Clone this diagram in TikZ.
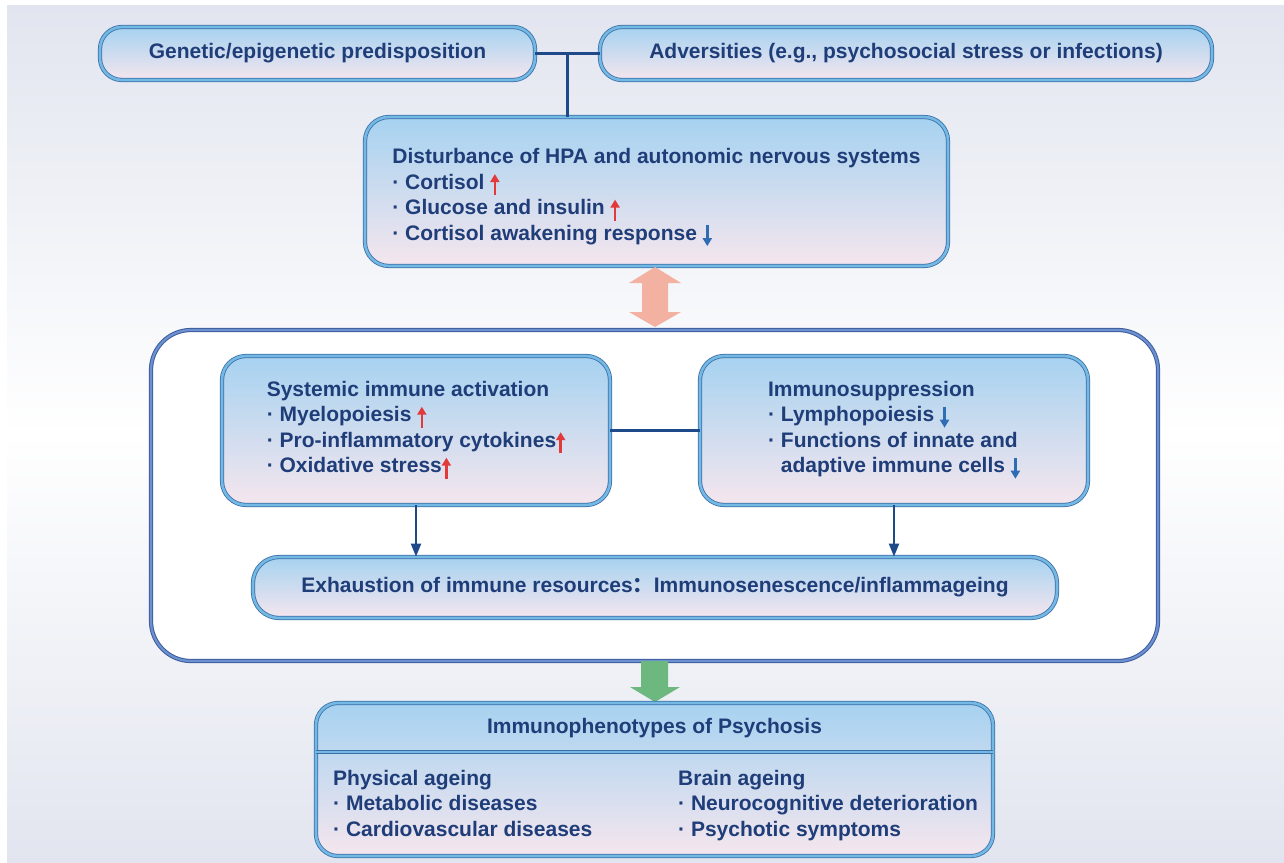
\documentclass[tikz,border=0pt]{standalone}
\usepackage{fontspec}
\setmainfont{Liberation Sans}
\newfontfamily\cjk{Noto Sans CJK SC}
\usetikzlibrary{arrows.meta,calc}
\definecolor{txtblue}{HTML}{1F3D78}
\definecolor{edgeblue}{HTML}{3B6FA8}
\definecolor{bandblue}{HTML}{74B8E4}
\definecolor{boxtop}{HTML}{A6D2F0}
\definecolor{boxbot}{HTML}{F5E6EE}
\definecolor{frameedge}{HTML}{3C5C9C}
\definecolor{frameband}{HTML}{6C90D0}
\definecolor{linkblue}{HTML}{1F4A8A}
\definecolor{upred}{HTML}{E23A3A}
\definecolor{downblue}{HTML}{2E6CB4}
\definecolor{bgedge}{HTML}{E2E5EF}
\definecolor{salmon}{HTML}{F2B1A1}
\definecolor{leafgreen}{HTML}{6DB87F}
% small trend arrows in the text
\newcommand{\up}{\tikz[baseline=0pt]\draw[upred,line width=2.6pt,-{Triangle[length=8pt,width=9pt]}] (0pt,-6pt) -- (0pt,15pt);}
\newcommand{\down}{\tikz[baseline=0pt]\draw[downblue,line width=2.6pt,-{Triangle[length=8pt,width=9pt]}] (0pt,15pt) -- (0pt,-6pt);}
\tikzset{
  pill/.style={draw=edgeblue, double=bandblue, double distance=2.6pt, line width=0.8pt,
    top color=boxtop, bottom color=boxbot, rounded corners=#1, align=left,
    text=txtblue, font=\bfseries\fontsize{21}{25.5}\selectfont, inner sep=0pt},
  pill/.default=24pt,
  link/.style={linkblue, line width=2.2pt},
  txt/.style={text=txtblue, font=\bfseries\fontsize{21}{25.5}\selectfont, align=left, inner sep=0pt}
}
\begin{document}
\begin{tikzpicture}[x=1pt,y=-1pt]
  \useasboundingbox (0,0) rectangle (1284,862);
  \shade[top color=bgedge, bottom color=bgedge, middle color=white] (7,5) rectangle (1284,862);

  % top row
  \node[pill=22pt, minimum width=435pt, minimum height=53pt] (gen) at (317.5,53.5) {Genetic/epigenetic predisposition};
  \node[pill=22pt, minimum width=612pt, minimum height=53pt] (adv) at (906,53.5) {Adversities (e.g., psychosocial stress or infections)};
  \node[pill, minimum width=583pt, minimum height=149pt] (hpa) at (656.5,191.5)
    {\rule{0pt}{28pt}Disturbance of HPA and autonomic nervous systems\\
     · Cortisol \up\\
     · Glucose and insulin \up\\
     · Cortisol awakening response \down};
  \coordinate (join) at ($(gen.east)!0.5!(adv.west)$);
  \draw[link] (gen.east) -- (adv.west);
  \draw[link] (join) -- (join |- hpa.north);

  % immune frame
  \node[draw=frameedge, double=frameband, double distance=2.2pt, line width=1pt, fill=white,
    rounded corners=40pt, minimum width=1007pt, minimum height=331pt] (frame) at (654.5,495.5) {};
  \node[pill, minimum width=388pt, minimum height=149pt] (sia) at (416,430.5)
    {Systemic immune activation\\
     · Myelopoiesis \up\\
     · Pro-inflammatory cytokines\up\\
     · Oxidative stress\up};
  \node[pill, minimum width=388pt, minimum height=149pt] (imm) at (894,430.5)
    {Immunosuppression\\
     · Lymphopoiesis \down\\
     · Functions of innate and\\
     \hphantom{·\ }adaptive immune cells \down};
  \node[pill=26pt, minimum width=804pt, minimum height=61pt] (exh) at (655,587.5)
    {Exhaustion of immune resources{\cjk ：}Immunosenescence/inflammageing};
  \draw[link] (sia.east) -- (imm.west);
  \draw[link,-{Triangle[length=13pt,width=10pt]}] (sia.south) -- (sia.south |- exh.north);
  \draw[link,-{Triangle[length=13pt,width=10pt]}] (imm.south) -- (imm.south |- exh.north);

  % big arrows
  \fill[salmon] (655,267) -- (681,283) -- (668,283) -- (668,312) -- (681,312) -- (655,327)
    -- (629,312) -- (642,312) -- (642,283) -- (629,283) -- cycle;
  \fill[leafgreen] (641,661) -- (668,661) -- (668,687) -- (680,687) -- (655,702) -- (630,687)
    -- (641,687) -- cycle;

  % immunophenotypes
  \node[pill=22pt, minimum width=677pt, minimum height=153pt] (phe) at (654.5,779.5) {};
  \node[txt] (phet) at (654.5,728) {Immunophenotypes of Psychosis};
  \draw[draw=edgeblue, double=bandblue, double distance=2.6pt, line width=0.8pt]
    (phe.west |- 0,752) -- (phe.east |- 0,752);
  \node[txt, anchor=north west] (phy) at (333,767) {\strut Physical ageing\\ · Metabolic diseases\\ · Cardiovascular diseases};
  \node[txt, anchor=north west] (brn) at (678,767) {\strut Brain ageing\\ · Neurocognitive deterioration\\ · Psychotic symptoms};
\end{tikzpicture}
\end{document}
